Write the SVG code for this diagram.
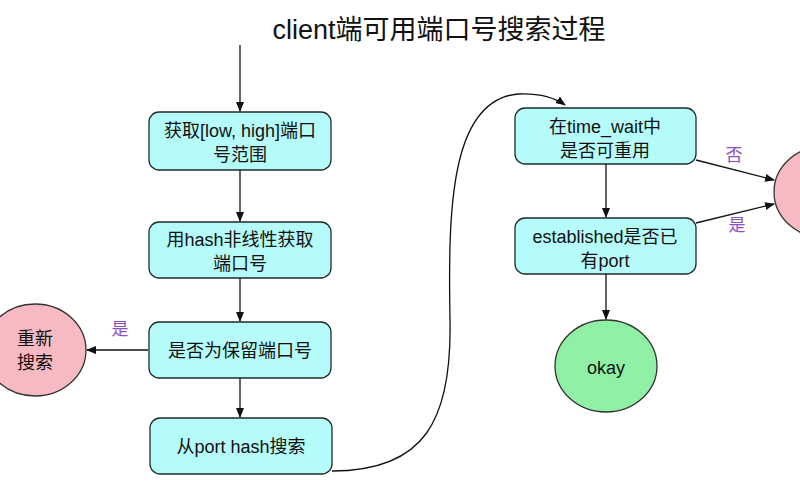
<svg xmlns="http://www.w3.org/2000/svg" width="800" height="500" viewBox="0 0 800 500">
<defs>
<marker id="arr" markerWidth="10" markerHeight="10" refX="9" refY="5" orient="auto" markerUnits="userSpaceOnUse">
<path d="M0,1 L10,5 L0,9 Z" fill="#111"/>
</marker>
<style>
.box{fill:#b5fbf9;stroke:#1f2b2b;stroke-width:1.3}
.t{font-family:"Liberation Sans","Noto Sans CJK SC",sans-serif;font-size:18px;fill:#111;text-anchor:middle}
.lbl{font-family:"Noto Sans CJK SC",sans-serif;font-size:17px;fill:#8a50c4;text-anchor:middle}
.pink{fill:#f7b9c2;stroke:#333;stroke-width:1.3}
.green{fill:#8ff0a6;stroke:#333;stroke-width:1.3}
.c{fill:none;stroke:#111;stroke-width:1.3;marker-end:url(#arr)}
</style>
</defs>
<rect width="800" height="500" fill="#fff"/>
<text x="439" y="39" class="t" style="font-size:27px">client端可用端口号搜索过程</text>
<g id="n1"><rect class="box" x="149" y="112" width="182" height="58" rx="10"/><text class="t" x="240" y="137">获取[low, high]端口</text><text class="t" x="240" y="161">号范围</text></g>
<g id="n2"><rect class="box" x="149" y="222" width="182" height="56" rx="10"/><text class="t" x="240" y="246">用hash非线性获取</text><text class="t" x="240" y="270">端口号</text></g>
<g id="n3"><rect class="box" x="149" y="322" width="182" height="56" rx="10"/><text class="t" x="240" y="357">是否为保留端口号</text></g>
<g id="n4"><rect class="box" x="150" y="418" width="182" height="56" rx="10"/><text class="t" x="241" y="453">从port hash搜索</text></g>
<g id="n5"><rect class="box" x="515" y="108" width="181" height="56" rx="10"/><text class="t" x="605" y="133">在time_wait中</text><text class="t" x="605" y="157">是否可重用</text></g>
<g id="n6"><rect class="box" x="515" y="218" width="181" height="56" rx="10"/><text class="t" x="605" y="243">established是否已</text><text class="t" x="605" y="267">有port</text></g>
<g id="n7"><ellipse class="pink" cx="35" cy="350" rx="51" ry="46"/><text class="t" x="35" y="345">重新</text><text class="t" x="35" y="369">搜索</text></g>
<g id="n8"><ellipse class="green" cx="606" cy="366" rx="51" ry="46"/><text class="t" x="606" y="374">okay</text></g>
<g id="n9"><ellipse class="pink" cx="825" cy="192" rx="51" ry="46"/></g>
<g id="connectors">
<line class="c" x1="240" y1="45" x2="240" y2="111"/>
<line class="c" x1="240" y1="170" x2="240" y2="221"/>
<line class="c" x1="240" y1="278" x2="240" y2="321"/>
<line class="c" x1="240" y1="378" x2="240" y2="417"/>
<line class="c" x1="148" y1="350" x2="87" y2="350"/>
<path class="c" d="M332 471 C425 471 452 420 450 320 C448 210 450 100 518 94 C540 93 555 98 565 105"/>
<line class="c" x1="606" y1="164" x2="606" y2="217"/>
<line class="c" x1="606" y1="274" x2="606" y2="319"/>
<line class="c" x1="696" y1="160" x2="774" y2="180"/>
<line class="c" x1="696" y1="223" x2="774" y2="204"/>
<text x="120" y="335" class="lbl">是</text>
<text x="734" y="161" class="lbl">否</text>
<text x="737" y="231" class="lbl">是</text>
</g>
</svg>
